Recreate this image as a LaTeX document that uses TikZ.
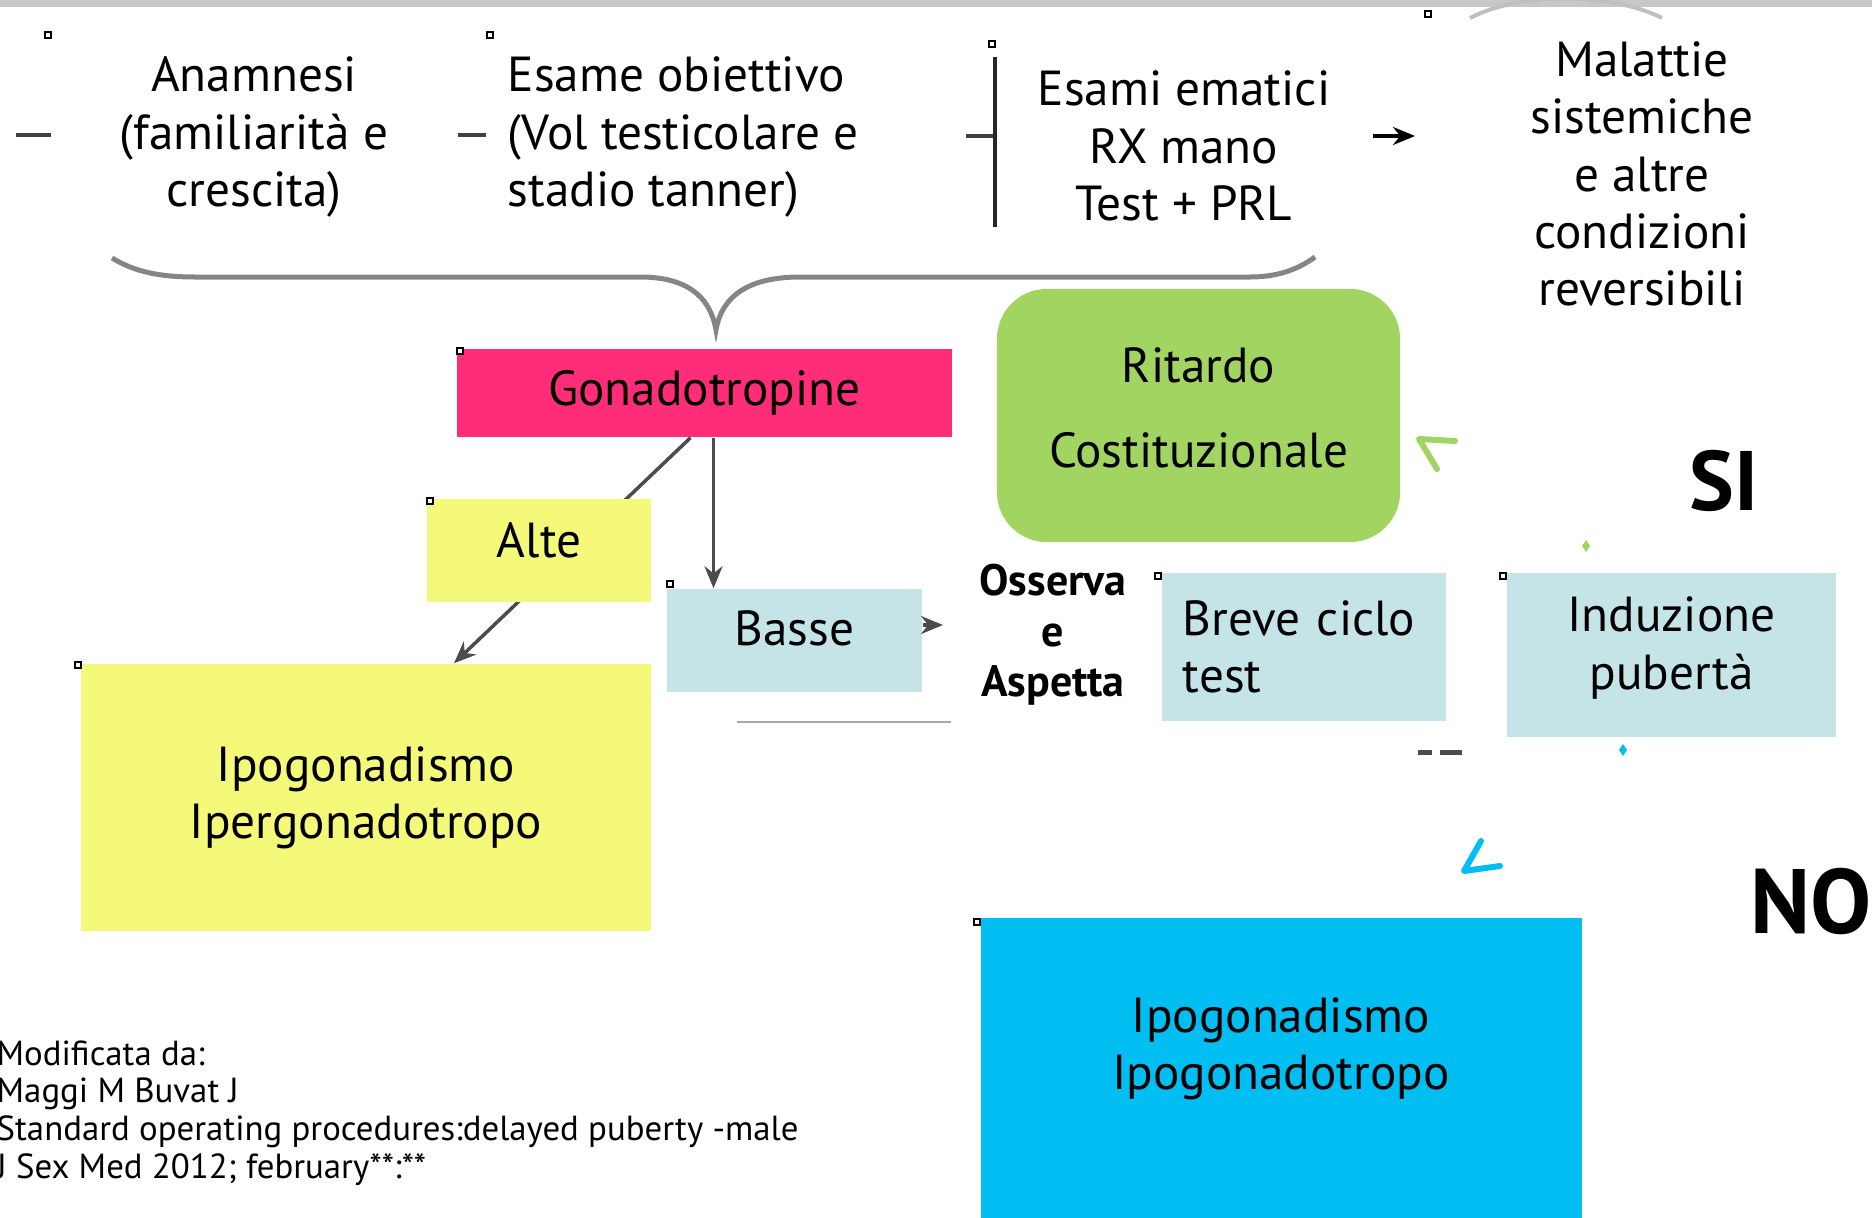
\documentclass[tikz,border=0pt]{standalone}
\usepackage{fontspec}
\setmainfont{PT Sans}
\usetikzlibrary{calc,arrows.meta}
\definecolor{gonapink}{HTML}{FF2D78}
\definecolor{postit}{HTML}{F5F97A}
\definecolor{paleblue}{HTML}{C5E4E8}
\definecolor{ritgreen}{HTML}{A2D462}
\definecolor{ipoblue}{HTML}{00BDF2}
\tikzset{
  card/.style={rectangle, inner sep=0pt, align=center, font=\fontsize{14}{16.3}\selectfont},
  plain/.style={inner sep=0pt, align=center, font=\fontsize{14}{16.3}\selectfont},
  link/.style={draw=black!70, line width=0.35mm, -{Stealth[length=2.2mm,width=1.8mm]}},
  handle/.style={draw=black, line width=0.25mm, fill=white},
  tick/.style={line width=0.6mm, line cap=round, line join=round}
}

\begin{document}
\begin{tikzpicture}[x=0.01cm, y=-0.01cm]
			%%%%% START %%%%%
			\useasboundingbox (0,0) rectangle (1872,1218);
			
			\draw[line width=0.9mm, color=black!22] (0,2) -- (1872,2);
			\draw[line width=0.4mm, color=black!25] (1470,18) .. controls (1520,-8) and (1610,-8) .. (1662,18);
			
			% brace under the first row
			\draw[line width=0.5mm, color=black!48] (112,258) .. controls (135,272) and (160,277) .. (195,277) -- (640,277) .. controls (685,277) and (710,295) .. (716,330) .. controls (722,295) and (750,277) .. (800,277) -- (1250,277) .. controls (1280,277) and (1300,268) .. (1315,257);
			
			\node[plain] (anamnesi) at (254,137) {Anamnesi\\(familiarità e\\crescita)};
			\node[plain, align=left, anchor=west] (esame) at (507,137) {Esame obiettivo\\(Vol testicolare e\\stadio tanner)};
			\node[plain] (esami) at (1184,146) {Esami ematici\\RX mano\\Test + PRL};
			\node[plain] (malattie) at (1642,174) {Malattie\\sistemiche\\e altre\\condizioni\\reversibili};
			
			\draw[line width=0.4mm, color=black!75] (16,135) -- (51,135);
			\draw[line width=0.4mm, color=black!75] (458,135) -- (486,135);
			\draw[line width=0.4mm, color=black!75] (966,136) -- (995,136);
			\draw[line width=0.4mm, color=black!85] (995,57) -- (995,227);
			
			\coordinate (e1) at (1373,136);
			\coordinate (m1) at (1415,136);
			\draw[link, draw=black] (e1) -- (m1);
			
			% gonadotropine
			\node[card, fill=gonapink, minimum width=4.95cm, minimum height=0.88cm] (gonado) at (704.5,393) {Gonadotropine};
			\node[card, fill=postit, minimum width=5.70cm, minimum height=2.67cm] (ipergo) at (366,797.5) {Ipogonadismo\\Ipergonadotropo};
			
			\draw[link] ($(gonado.south)+(-14,0)$) -- ($(ipergo.north)+(88,0)$);
			
			\node[card, fill=postit, minimum width=2.24cm, minimum height=1.03cm, text depth=0.22cm] (alte) at (539,550.5) {Alte};
			\node[card, fill=paleblue, minimum width=2.55cm, minimum height=1.03cm, text depth=0.24cm] (basse) at (794.5,640.5) {Basse};
			
			\coordinate (gsplit) at ($(gonado.south)+(9,0)$);
			\draw[link] (gsplit) -- (gsplit |- basse.north);
			\coordinate (wait) at (943,625);
			\draw[link] (basse.east |- wait) -- (wait);
			\draw[line width=0.25mm, color=black!35] (737,722) -- (951,722);
			
			% right part
			\node[card, fill=ritgreen, rounded corners=0.5cm, minimum width=4.03cm, minimum height=2.53cm, text depth=0.16cm, font=\fontsize{14}{24}\selectfont] (ritardo) at (1198.5,415.5) {Ritardo\\Costituzionale};
			\node[plain, font=\bfseries\fontsize{12.5}{14.4}\selectfont] (osserva) at (1053,635) {Osserva\\e\\Aspetta};
			\node[card, fill=paleblue, align=left, text width=2.42cm, inner xsep=0.21cm, minimum height=1.48cm] (breve) at (1304,647) {Breve ciclo\\test};
			\node[card, fill=paleblue, minimum width=3.29cm, minimum height=1.64cm, text depth=0.24cm] (induzione) at (1671.5,655) {Induzione\\pubertà};
			
			\node[inner sep=0pt, font=\bfseries\fontsize{24}{24}\selectfont] (si) at (1724,481) {SI};
			\node[inner sep=0pt, font=\bfseries\fontsize{26}{26}\selectfont] (no) at (1811,901) {NO};
			
			\node[card, fill=ipoblue, minimum width=6.01cm, minimum height=3.00cm] (ipogo) at (1281.5,1068) {};
			\node[plain] (ipogotxt) at (1281,1049) {Ipogonadismo\\Ipogonadotropo};
			
			\draw[tick, color=ritgreen] (1455,441) -- (1419,439) -- (1437,469);
			\fill[ritgreen] (1586,540) -- (1590,546) -- (1586,552) -- (1582,546) -- cycle;
			\fill[ipoblue] (1623,744) -- (1627,750) -- (1623,756) -- (1619,750) -- cycle;
			\draw[tick, color=ipoblue] (1481,841) -- (1464,871) -- (1500,866);
			\draw[line width=0.5mm, color=black!70] (1418,752) -- (1432,752) (1440,752) -- (1462,752);
			
			\node[anchor=north west, align=left, inner sep=0pt, font=\fontsize{9.9}{10.7}\selectfont] (source) at (-4,1040) {Modificata da:\\Maggi M Buvat J\\Standard operating procedures:delayed puberty -male\\J Sex Med 2012; february**:**};
			
			\foreach \hx/\hy in {48/35, 490/35, 992/44, 1428/14, 460/351, 430/501, 670/584, 78/665, 1158/576, 1503/576, 977/922}
				\draw[handle] (\hx-3,\hy-3) rectangle (\hx+3,\hy+3);
			
			%%%%% END %%%%%
\end{tikzpicture}
\end{document}
